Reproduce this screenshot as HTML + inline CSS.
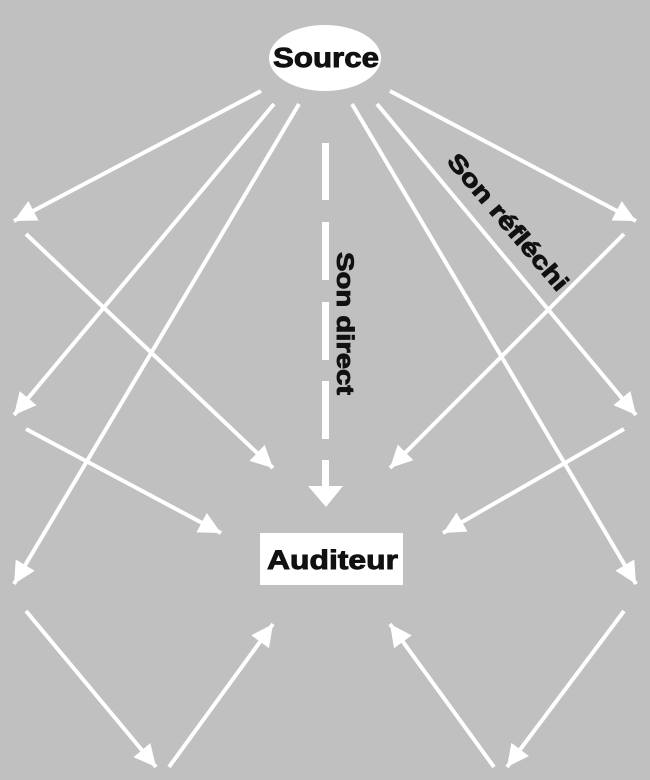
<!DOCTYPE html>
<html><head><meta charset="utf-8"><style>
html,body{margin:0;padding:0;background:#c0c0c0}
svg{display:block}
text{font-family:"Liberation Sans",Arial,sans-serif;font-weight:bold;fill:#111;stroke:#111;stroke-width:0.9}
</style></head><body>
<svg width="650" height="780" viewBox="0 0 650 780" xmlns="http://www.w3.org/2000/svg">
<defs>
<marker id="a" viewBox="0 0 10 10" refX="10" refY="5" markerWidth="5.5" markerHeight="5.5" markerUnits="strokeWidth" orient="auto">
<path d="M0,0 L10,5 L0,10 z" fill="#fff"/>
</marker>
</defs>
<rect width="650" height="780" fill="#c0c0c0"/>
<g stroke="#fff" stroke-width="4" fill="none" marker-end="url(#a)">
<line x1="261" y1="91" x2="14" y2="221"/>
<line x1="274" y1="104" x2="14" y2="415"/>
<line x1="299" y1="104" x2="14" y2="584"/>
<line x1="390" y1="91" x2="636" y2="221"/>
<line x1="377" y1="104" x2="636" y2="415"/>
<line x1="352" y1="104" x2="636" y2="584"/>
<line x1="26" y1="234" x2="273" y2="468"/>
<line x1="26" y1="429" x2="221" y2="533"/>
<line x1="26" y1="611" x2="156" y2="767"/>
<line x1="169" y1="767" x2="273" y2="624"/>
<line x1="624" y1="234" x2="390" y2="468"/>
<line x1="624" y1="429" x2="443" y2="533"/>
<line x1="624" y1="611" x2="507" y2="767"/>
<line x1="494" y1="767" x2="390" y2="624"/>
</g>
<g fill="#fff">
<rect x="322" y="143" width="7" height="57"/>
<rect x="322" y="222" width="7" height="58"/>
<rect x="322" y="302" width="7" height="58"/>
<rect x="322" y="381" width="7" height="58"/>
<rect x="322" y="460" width="7" height="27"/>
<polygon points="308,486 343,486 326,507"/>
</g>
<ellipse cx="325" cy="58" rx="56" ry="33" fill="#fff"/>
<text x="273" y="67" font-size="28" textLength="106" lengthAdjust="spacingAndGlyphs">Source</text>
<rect x="260" y="533" width="143" height="52" fill="#fff"/>
<text x="267" y="569" font-size="27" textLength="131" lengthAdjust="spacingAndGlyphs">Auditeur</text>
<text transform="translate(337,252) rotate(90)" font-size="24" textLength="143" lengthAdjust="spacingAndGlyphs">Son direct</text>
<text transform="translate(446,162) rotate(49.5)" font-size="24" textLength="172" lengthAdjust="spacingAndGlyphs">Son réfléchi</text>
</svg>
</body></html>
